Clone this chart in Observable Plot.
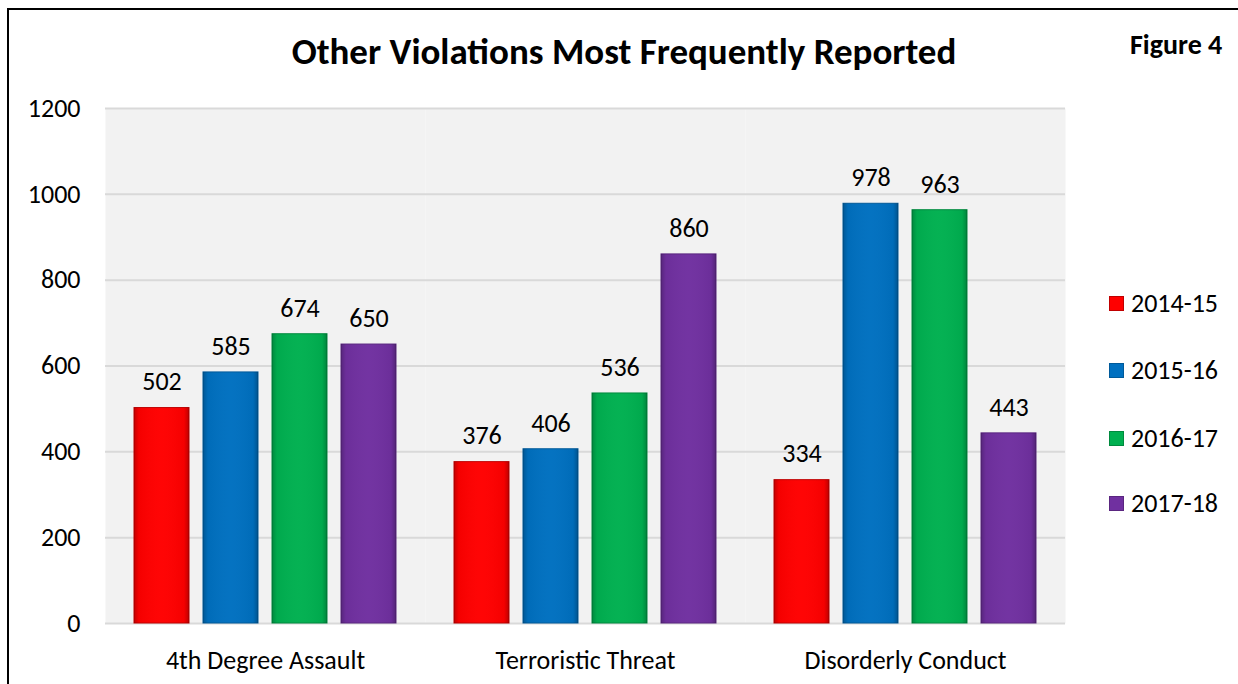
<!DOCTYPE html>
<html>
<head>
<meta charset="utf-8">
<script src="https://cdn.jsdelivr.net/npm/d3@7"></script>
<script src="https://cdn.jsdelivr.net/npm/@observablehq/plot@0.6"></script>
<style>
  body { margin: 0; background: #fff; }
  #wrap { position: relative; width: 1238px; height: 684px; overflow: hidden; background: #fff;
          font-family: Carlito, Lato, "Open Sans", sans-serif; color: #000; }
  #frameline { position: absolute; left: 7px; top: 8px; width: 1400px; height: 800px;
               border-left: 2px solid #000; border-top: 2px solid #000; box-sizing: border-box; }
  #title { position: absolute; left: 0; width: 1248px; top: 33px; text-align: center;
           font-weight: bold; font-size: 37px; line-height: 1; white-space: nowrap; }
  #fig { position: absolute; left: 1130px; top: 31px; font-weight: bold; font-size: 28px; line-height: 1; white-space: nowrap; }
  #chart { position: absolute; left: 0; top: 0; }
  .lg { position: absolute; left: 1109px; display: flex; align-items: center; font-size: 26px; line-height: 1; white-space: nowrap; }
  .lg .sw { width: 15px; height: 15px; margin-right: 7px; box-sizing: border-box; }
</style>
</head>
<body>
<div id="wrap">
  <div id="frameline"></div>
  <div id="title">Other Violations Most Frequently Reported</div>
  <div id="fig">Figure 4</div>
  <div id="chart"></div>
  <div id="legend"></div>
</div>
<script>
// ---- data ----
const categories = ["4th Degree Assault", "Terroristic Threat", "Disorderly Conduct"];
const years = ["2014-15", "2015-16", "2016-17", "2017-18"];
const colors = ["#FF0000", "#0070C0", "#00B050", "#7030A0"];
const strokes = ["#C00000", "#005A9A", "#008A3E", "#5A2680"];
const values2014 = [502, 376, 334];
const values2015 = [585, 406, 978];
const values2016 = [674, 536, 963];
const values2017 = [650, 860, 443];
const yTicks = [0, 200, 400, 600, 800, 1000, 1200];

const seriesValues = [values2014, values2015, values2016, values2017];
const data = categories.flatMap((c, i) =>
  years.map((y, j) => ({ category: c, year: y, value: seriesValues[j][i] })));

const font = "Carlito, Lato, 'Open Sans', sans-serif";

const chart = Plot.plot({
  width: 1238,
  height: 684,
  marginLeft: 104,
  marginRight: 173,
  marginTop: 108,
  marginBottom: 61,
  style: { fontFamily: font, fontSize: "26px", color: "#000", background: "transparent", overflow: "visible" },
  fx: { domain: categories, padding: 0, label: null },
  x: { domain: years, paddingInner: 0.21, paddingOuter: 0.407, axis: null },
  y: { domain: [0, 1200], label: null },
  color: { domain: years, range: colors },
  marks: [
    Plot.frame({ fill: "#f2f2f2", stroke: null }),
    Plot.ruleY(yTicks, { stroke: "#d9d9d9", strokeWidth: 2 }),
    Plot.barY(data, { fx: "category", x: "year", y: "value", fill: "year",
                      stroke: d => strokes[years.indexOf(d.year)], strokeWidth: 1 }),
    Plot.barY(data, { fx: "category", x: "year", y: "value", fill: "url(#barShade)" }),
    Plot.text(data, { fx: "category", x: "year", y: "value", text: d => String(d.value),
                      dy: -26, fontSize: 26, fill: "#000" }),
    Plot.axisY({ ticks: yTicks, tickSize: 0, tickPadding: 25, fontSize: 26, label: null, tickFormat: d => String(d) }),
    Plot.axisFx({ anchor: "bottom", tickSize: 0, tickPadding: 27, fontSize: 26, label: null })
  ]
});
d3.select(chart).insert("defs", ":first-child").html(
  '<linearGradient id="barShade" x1="0" y1="0" x2="1" y2="0">' +
  '<stop offset="0" stop-color="#000" stop-opacity="0.22"/>' +
  '<stop offset="0.09" stop-color="#000" stop-opacity="0.04"/>' +
  '<stop offset="0.5" stop-color="#fff" stop-opacity="0.02"/>' +
  '<stop offset="0.91" stop-color="#000" stop-opacity="0.04"/>' +
  '<stop offset="1" stop-color="#000" stop-opacity="0.25"/>' +
  '</linearGradient>'
);
document.getElementById("chart").appendChild(chart);

// ---- legend ----
const legendTops = [303, 370, 438, 503];
const legend = document.getElementById("legend");
years.forEach((y, i) => {
  const item = document.createElement("div");
  item.className = "lg";
  item.style.top = (legendTops[i] - 13) + "px";
  item.style.height = "26px";
  const sw = document.createElement("span");
  sw.className = "sw";
  sw.style.background = colors[i];
  sw.style.border = "1px solid " + strokes[i];
  const t = document.createElement("span");
  t.textContent = y;
  item.appendChild(sw);
  item.appendChild(t);
  legend.appendChild(item);
});
</script>
</body>
</html>
